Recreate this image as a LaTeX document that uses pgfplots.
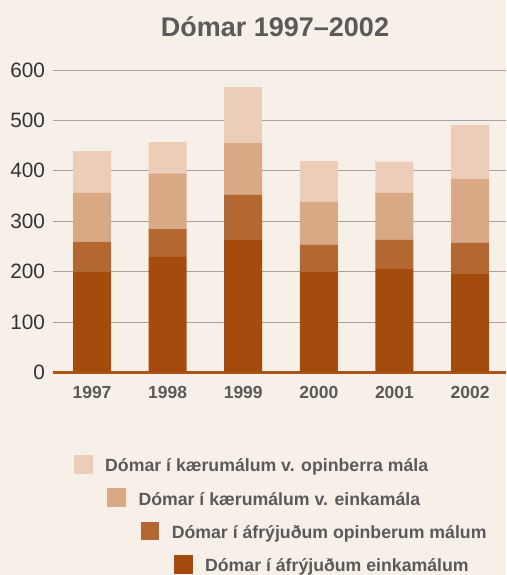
\documentclass[border=0pt]{standalone}
\usepackage{fontspec}
\setmainfont{Liberation Sans}
\usepackage{pgfplots}
\pgfplotsset{compat=1.18}
\definecolor{bg}{HTML}{F7F0E9}
\definecolor{c1}{HTML}{A54B0D}
\definecolor{c2}{HTML}{B36731}
\definecolor{c3}{HTML}{D9A885}
\definecolor{c4}{HTML}{ECCEB8}
\definecolor{baseln}{HTML}{AC5518}
\definecolor{gridgray}{HTML}{A8A09A}
\definecolor{txtgray}{HTML}{5A5A5A}
\definecolor{ytxt}{HTML}{333333}
\begin{document}
\begin{tikzpicture}[x=1pt,y=1pt]
\fill[bg] (0,0) rectangle (506,575);
\useasboundingbox (0,0) rectangle (506,575);
\node[anchor=base, inner sep=0, font=\bfseries\fontsize{27}{30}\selectfont, text=txtgray] at (275,538.3) {Dómar 1997–2002};
\begin{axis}[at={(53pt,202.7pt)}, anchor=south west, scale only axis,
  width=453pt, height=302.3pt,
  ybar stacked, bar width=38pt,
  xmin=-0.516, xmax=5.475, ymin=0, ymax=600,
  ytick={0,100,...,600}, xtick={0,...,5},
  xticklabels={1997,1998,1999,2000,2001,2002},
  axis line style={draw=none}, major tick length=0pt,
  ymajorgrids, grid style={color=gridgray, line width=0.8pt},
  clip=false,
  yticklabel style={font=\fontsize{20.8}{21}\selectfont, text=ytxt, anchor=east, xshift=-4.5pt},
  xticklabel style={font=\bfseries\fontsize{17.5}{18}\selectfont, text=txtgray, yshift=-10pt},
  /pgf/number format/assume math mode=true,
  /pgf/number format/1000 sep={},
]
\addplot[fill=c1, draw=none] coordinates {(0,200) (1,229) (2,263) (3,199) (4,205) (5,195)};
\addplot[fill=c2, draw=none] coordinates {(0,59) (1,55) (2,89) (3,54) (4,58) (5,62)};
\addplot[fill=c3, draw=none] coordinates {(0,97) (1,111) (2,103) (3,85) (4,93) (5,127)};
\addplot[fill=c4, draw=none] coordinates {(0,83) (1,62) (2,111) (3,81) (4,62) (5,107)};
\draw[baseln, line width=3.3pt] (axis cs:-0.516,0) -- (axis cs:5.475,0);
\end{axis}
% legend
\foreach \i/\c/\t in {0/c4/{Dómar í kærumálum v. opinberra mála},
                      1/c3/{Dómar í kærumálum v. einkamála},
                      2/c2/{Dómar í áfrýjuðum opinberum málum},
                      3/c1/{Dómar í áfrýjuðum einkamálum}}{
  \pgfmathsetmacro{\sx}{74+33.3*\i}
  \pgfmathsetmacro{\sy}{575-473.7-33.3*\i}
  \fill[\c] (\sx,\sy) rectangle ++(18.7,18.7);
  \node[anchor=base west, inner sep=0, font=\bfseries\fontsize{17.7}{18}\selectfont, text=txtgray] at (\sx+31,\sy+9.35-7.4) {\t};
}
\end{tikzpicture}
\end{document}
